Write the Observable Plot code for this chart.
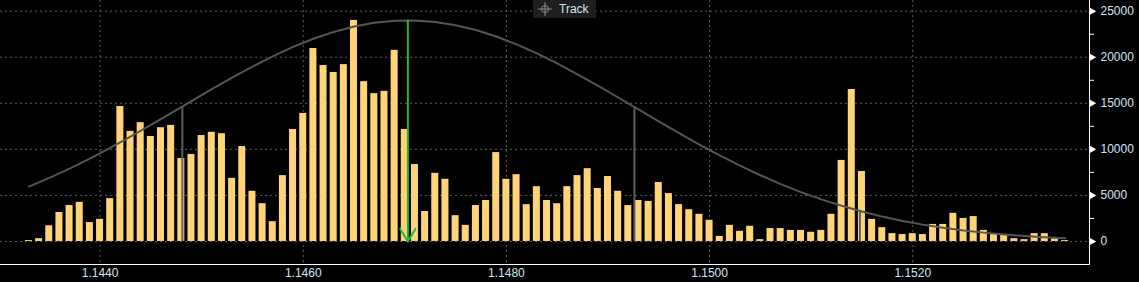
<!DOCTYPE html>
<html>
<head>
<meta charset="utf-8">
<script src="https://cdn.jsdelivr.net/npm/d3@7"></script>
<script src="https://cdn.jsdelivr.net/npm/@observablehq/plot@0.6"></script>
<style>
  html, body { margin: 0; padding: 0; background: #000; }
  #wrap { position: relative; width: 1139px; height: 282px; overflow: hidden; background: #000; }
  #chart svg text { fill: #d3e4f6; }
  #track { position: absolute; left: 533px; top: 0; width: 63px; height: 18px; background: #1e1e1e;
           display: flex; align-items: center; font: 12px "Liberation Sans", Arial, sans-serif; color: #d6e4f2; }
  #track svg { margin-left: 5px; }
  #track span { margin-left: 7px; }
</style>
</head>
<body>
<div id="wrap">
  <div id="chart"></div>
  <div id="track">
    <svg width="14" height="14" viewBox="0 0 14 14">
      <circle cx="7" cy="7" r="3.5" fill="none" stroke="#8a8a8a" stroke-width="1"/>
      <line x1="0" y1="7" x2="14" y2="7" stroke="#8a8a8a" stroke-width="1"/>
      <line x1="7" y1="0" x2="7" y2="14" stroke="#8a8a8a" stroke-width="1"/>
    </svg>
    <span>Track</span>
  </div>
</div>
<script>
// Histogram bins (price levels, step 0.0001) and their volumes
const binStart = 1.1433;
const binStep = 0.0001;
const counts = [
  100, 300, 1700, 3150, 3900, 4250, 2050, 2400, 4650, 14650,
  11950, 12900, 11400, 12350, 12600, 9000, 9450, 11500, 11850, 11700,
  6850, 10300, 5450, 4100, 2150, 7150, 12150, 13900, 20950, 19100,
  18350, 19200, 24000, 17350, 16050, 16300, 20750, 12150, 8350, 3250,
  7400, 6750, 2800, 1750, 3900, 4450, 9650, 6750, 7250, 4000,
  5950, 4450, 4100, 5950, 7150, 7900, 5750, 7050, 5450, 3900,
  4450, 4350, 6400, 5200, 4000, 3450, 2950, 2300, 550, 1750,
  1100, 1650, 200, 1400, 1400, 1200, 1200, 1000, 1200, 2950,
  8800, 16500, 7600, 2400, 1500, 850, 750, 850, 750, 1850,
  1850, 3050, 2500, 2700, 1200, 850, 750, 300, 200, 850,
  850, 300, 100
];

// Distribution curve, read every 0.0002 from 1.1433
const curveStart = 1.1433;
const curveStep = 0.0002;
const curveValues = [
  5960, 6900, 7910, 9000, 10160, 11380, 12650, 13940, 15240, 16530,
  17790, 18990, 20100, 21120, 22010, 22750, 23330, 23740, 23960, 23990,
  23830, 23470, 22950, 22250, 21400, 20420, 19330, 18150, 16910, 15630,
  14330, 13030, 11760, 10520, 9340, 8230, 7190, 6230, 5360, 4570,
  3870, 3250, 2700, 2230, 1830, 1490, 1200, 960, 760, 600,
  470, 360
];

// Band markers (gray verticals) and the mean marker (green arrow)
const bandPrices = [1.14481, 1.14926, 1.15148];
const bandTops = [14550, 14500, 3280];
const meanPrice = 1.14703;
const meanTop = 24000;

// Axis ticks
const xTicks = [1.1440, 1.1460, 1.1480, 1.1500, 1.1520];
const yMajor = [0, 5000, 10000, 15000, 20000, 25000];
const yMinor = [0, 2500, 5000, 7500, 10000, 12500, 15000, 17500, 20000, 22500, 25000];

const bars = counts.map((v, i) => ({p: +(binStart + i * binStep).toFixed(4), v}));
const curve = curveValues.map((v, i) => ({p: +(curveStart + i * curveStep).toFixed(4), v}));
const bands = bandPrices.map((p, i) => ({p, v: bandTops[i]}));
const halfW = 0.0000345;

const chart = Plot.plot({
  width: 1139,
  height: 282,
  marginLeft: 0,
  marginRight: 50,
  marginTop: 0,
  marginBottom: 18,
  style: {background: "#000", color: "#ffffff", fontFamily: '"Liberation Sans", Arial, sans-serif', fontSize: "12px"},
  x: {domain: [1.14302, 1.15374], ticks: xTicks, tickFormat: d3.format(".4f"), tickSize: 0, tickPadding: 4, line: true, label: null},
  y: {domain: [-2500, 26160], axis: "right", ticks: yMinor, tickFormat: d => d % 5000 === 0 ? String(d) : "", tickSize: 4, tickPadding: 7, line: true, label: null},
  marks: [
    Plot.ruleY(yMajor, {stroke: "#5c5c5c", strokeDasharray: "2,3"}),
    Plot.ruleX(xTicks, {stroke: "#5c5c5c", strokeDasharray: "2,3"}),
    Plot.rect(bars, {x1: d => d.p - halfW, x2: d => d.p + halfW, y1: () => 0, y2: "v", fill: "#ffd479"}),
    Plot.ruleX(bands, {x: "p", y1: () => 0, y2: "v", stroke: "#5e5e5e", strokeWidth: 2}),
    Plot.line(curve, {x: "p", y: "v", stroke: "#555", strokeWidth: 2}),
    Plot.arrow([{p: meanPrice, v: meanTop}], {x1: "p", x2: "p", y1: "v", y2: () => 0, stroke: "#2cb82c", strokeWidth: 2, headLength: 11, headAngle: 62}),
    Plot.dot(yMajor, {y: d => d, frameAnchor: "right", symbol: "triangle", rotate: 90, r: 3, fill: "#ffffff", stroke: "none", dx: 2})
  ]
});
document.getElementById("chart").appendChild(chart);
</script>
</body>
</html>
